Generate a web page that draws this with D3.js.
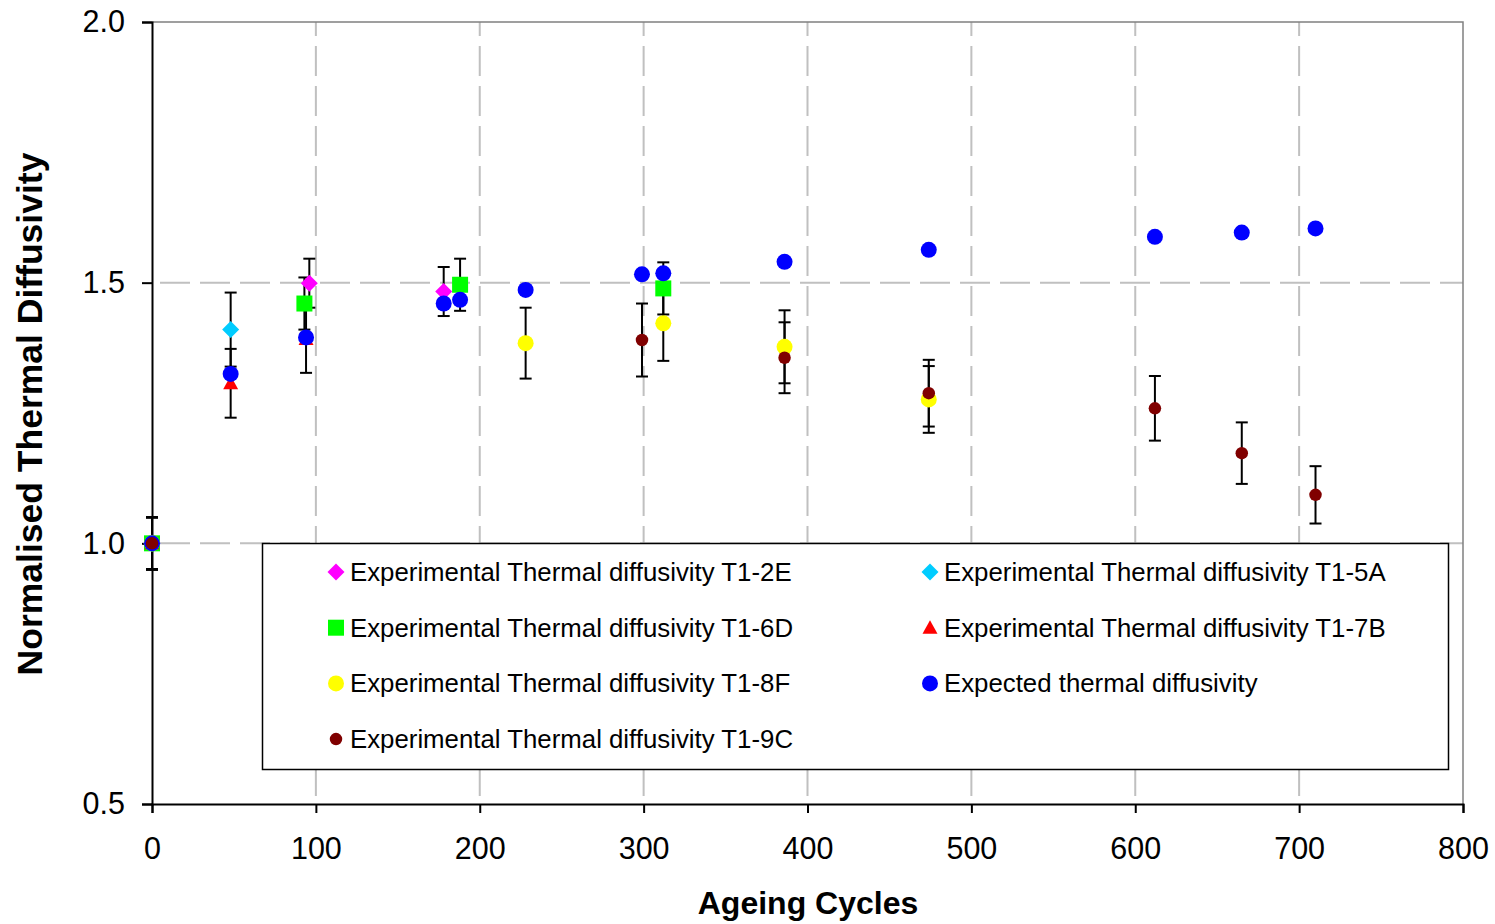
<!DOCTYPE html>
<html>
<head>
<meta charset="utf-8">
<script src="https://cdn.jsdelivr.net/npm/d3@7"></script>
<style>
  body { margin: 0; background: #fff; }
  svg { display: block; font-family: "Liberation Sans", Arial, sans-serif; }
</style>
</head>
<body>
<svg id="chart" width="1495" height="924"></svg>
<script>
// ageing cycles, normalised diffusivity, error (+/-)
var t1_2E = [[0, 1.0, 0.05], [96, 1.499, 0.047], [178, 1.483, 0.047]];
var t1_5A = [[0, 1.0, 0.05], [48, 1.41, 0.071]];
var t1_6D = [[0, 1.0, 0.05], [93, 1.46, 0.05], [188, 1.496, 0.05], [312, 1.489, 0.05]];
var t1_7B = [[0, 1.0, 0.05], [48, 1.307, 0.066], [94, 1.392, 0.065]];
var t1_8F = [[0, 1.0, 0.05], [228, 1.384, 0.068], [312, 1.422, 0.072], [386, 1.377, 0.07], [474, 1.276, 0.064]];
var expected = [[0, 1.0], [48, 1.325], [94, 1.395], [178, 1.460], [188, 1.467], [228, 1.486],
                [299, 1.516], [312, 1.518], [386, 1.540], [474, 1.563], [612, 1.588], [665, 1.596], [710, 1.604]];
var t1_9C = [[0, 1.0, 0.05], [299, 1.39, 0.07], [386, 1.356, 0.068], [474, 1.288, 0.064],
             [612, 1.259, 0.062], [665, 1.173, 0.059], [710, 1.093, 0.055]];

var x_ticks = [0, 100, 200, 300, 400, 500, 600, 700, 800];
var y_ticks = [0.5, 1.0, 1.5, 2.0];

var series = [
  {name: "Experimental Thermal diffusivity T1-2E", data: t1_2E, color: "#ff00ff", shape: "diamond", size: 17},
  {name: "Experimental Thermal diffusivity T1-5A", data: t1_5A, color: "#00ccff", shape: "diamond", size: 17},
  {name: "Experimental Thermal diffusivity T1-6D", data: t1_6D, color: "#00ff00", shape: "square", size: 16},
  {name: "Experimental Thermal diffusivity T1-7B", data: t1_7B, color: "#ff0000", shape: "triangle", size: 15},
  {name: "Experimental Thermal diffusivity T1-8F", data: t1_8F, color: "#ffff00", shape: "circle", size: 16},
  {name: "Expected thermal diffusivity", data: expected, color: "#0000ff", shape: "circle", size: 16},
  {name: "Experimental Thermal diffusivity T1-9C", data: t1_9C, color: "#800000", shape: "circle", size: 12.5}
];

var svg = d3.select("#chart");
var plotLeft = 152, plotRight = 1463, plotTop = 22, plotBottom = 804;

var x = d3.scaleLinear().domain([0, 800]).range([plotLeft, plotRight]);
var y = d3.scaleLinear().domain([0.5, 2.0]).range([plotBottom, plotTop]);

function markerPath(shape, size){
    var h = size / 2;
    if (shape == "diamond") return "M0," + (-h) + "L" + h + ",0L0," + h + "L" + (-h) + ",0Z";
    if (shape == "square") return "M" + (-h) + "," + (-h) + "h" + size + "v" + size + "h" + (-size) + "Z";
    if (shape == "triangle") return "M0," + (-h) + "L" + h + "," + (h * 0.8) + "L" + (-h) + "," + (h * 0.8) + "Z";
    return d3.symbol().type(d3.symbolCircle).size(Math.PI * h * h)();
}

// gridlines
svg.append("g").attr("class", "grid-y")
    .selectAll("line")
    .data(y_ticks.filter(d => d > 0.5 && d < 2.0))
    .enter()
    .append("line")
    .attr("x1", plotLeft).attr("x2", plotRight)
    .attr("y1", d => y(d)).attr("y2", d => y(d))
    .style("stroke", "#c0c0c0")
    .style("stroke-width", 2)
    .style("stroke-dasharray", "30,10")
    .style("stroke-dashoffset", -8);

svg.append("g").attr("class", "grid-x")
    .selectAll("line")
    .data(x_ticks.filter(d => d > 0 && d < 800))
    .enter()
    .append("line")
    .attr("x1", d => x(d)).attr("x2", d => x(d))
    .attr("y1", plotBottom).attr("y2", plotTop)
    .style("stroke", "#c0c0c0")
    .style("stroke-width", 2)
    .style("stroke-dasharray", "30,10")
    .style("stroke-dashoffset", -8);

// plot border (top / right)
svg.append("path")
    .attr("d", "M" + plotLeft + "," + plotTop + "H" + plotRight + "V" + plotBottom)
    .style("fill", "none")
    .style("stroke", "#808080")
    .style("stroke-width", 1.5);

// axes
var yAxis = svg.append("g")
    .attr("transform", "translate(" + plotLeft + ",0)")
    .call(d3.axisLeft(y).tickValues(y_ticks).tickFormat(d3.format(".1f")).tickSize(10).tickPadding(17));
var xAxis = svg.append("g")
    .attr("transform", "translate(0," + plotBottom + ")")
    .call(d3.axisBottom(x).tickValues(x_ticks).tickSize(9).tickPadding(24));

[xAxis, yAxis].forEach(a => {
    a.select(".domain").style("stroke", "#000").style("stroke-width", 2);
    a.selectAll(".tick line").style("stroke", "#000").style("stroke-width", 2);
    a.selectAll(".tick text")
        .style("font-size", "30.5px")
        .style("font-family", "Liberation Sans, Arial")
        .style("fill", "#000");
});

// axis titles
svg.append("text")
    .attr("x", 808)
    .attr("y", 914)
    .attr("text-anchor", "middle")
    .style("font-size", "32px")
    .style("font-weight", "bold")
    .text("Ageing Cycles");

svg.append("text")
    .attr("transform", "translate(42,414) rotate(-90)")
    .attr("text-anchor", "middle")
    .style("font-size", "35.5px")
    .style("font-weight", "bold")
    .text("Normalised Thermal Diffusivity");

// error bars
var errs = [];
series.forEach(s => s.data.forEach(d => { if (d.length > 2) errs.push(d); }));

var eb = svg.append("g").attr("class", "errorbars");
eb.selectAll("line.err")
    .data(errs)
    .enter()
    .append("line")
    .attr("class", "err")
    .attr("x1", d => x(d[0])).attr("x2", d => x(d[0]))
    .attr("y1", d => y(d[1] - d[2])).attr("y2", d => y(d[1] + d[2]))
    .style("stroke", "#000")
    .style("stroke-width", 2);
[-1, 1].forEach(sign => {
    eb.selectAll("line.cap" + (sign + 1))
        .data(errs)
        .enter()
        .append("line")
        .attr("class", "cap" + (sign + 1))
        .attr("x1", d => x(d[0]) - 6).attr("x2", d => x(d[0]) + 6)
        .attr("y1", d => y(d[1] + sign * d[2])).attr("y2", d => y(d[1] + sign * d[2]))
        .style("stroke", "#000")
        .style("stroke-width", 2);
});

// markers
series.forEach(s => {
    svg.append("g")
        .selectAll("path")
        .data(s.data)
        .enter()
        .append("path")
        .attr("d", markerPath(s.shape, s.size))
        .attr("transform", d => "translate(" + x(d[0]) + "," + y(d[1]) + ")")
        .style("fill", s.color);
});

// legend
var legend = svg.append("g").attr("class", "legend");
legend.append("rect")
    .attr("x", 262.5).attr("y", 543.5)
    .attr("width", 1186).attr("height", 226)
    .style("fill", "#fff")
    .style("stroke", "#000")
    .style("stroke-width", 1.5);

var items = legend.selectAll("g.item")
    .data(series)
    .enter()
    .append("g")
    .attr("class", "item")
    .attr("transform", (d, i) => "translate(" + (i % 2 == 0 ? 336 : 930) + "," + (572 + Math.floor(i / 2) * 55.7) + ")");

items.append("path")
    .attr("d", d => markerPath(d.shape, d.size))
    .style("fill", d => d.color);

items.append("text")
    .attr("x", 14)
    .attr("y", 9)
    .style("font-size", "25.8px")
    .style("fill", "#000")
    .text(d => d.name);
</script>
</body>
</html>
